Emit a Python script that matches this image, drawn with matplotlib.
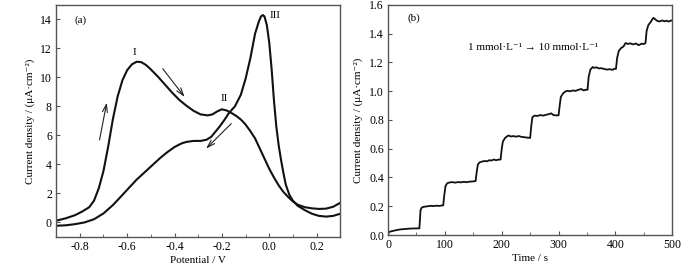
import matplotlib.pyplot as plt
from matplotlib.ticker import MultipleLocator

plt.rcParams['font.family'] = ['Liberation Serif', 'DejaVu Serif']
plt.rcParams['font.size'] = 8

# (a) cyclic voltammogram, forward scan
fwd_v = [-0.90, -0.86, -0.82, -0.79, -0.76, -0.74, -0.72, -0.70, -0.68, -0.66,
         -0.64, -0.62, -0.60, -0.58, -0.56, -0.54, -0.52, -0.50, -0.47, -0.44,
         -0.41, -0.38, -0.35, -0.32, -0.29, -0.26, -0.24, -0.22, -0.20, -0.18,
         -0.16, -0.14, -0.12, -0.10, -0.08, -0.06, -0.04, -0.02, 0.00, 0.02,
         0.04, 0.06, 0.08, 0.10, 0.12, 0.15, 0.18, 0.21, 0.24, 0.27, 0.30]
fwd_i = [0.12, 0.28, 0.50, 0.75, 1.05, 1.50, 2.35, 3.55, 5.25, 7.15,
         8.70, 9.80, 10.50, 10.90, 11.08, 11.05, 10.85, 10.55, 10.05, 9.50,
         8.95, 8.45, 8.05, 7.70, 7.45, 7.38, 7.45, 7.65, 7.80, 7.72,
         7.55, 7.35, 7.10, 6.75, 6.30, 5.80, 5.10, 4.40, 3.70, 3.10,
         2.55, 2.10, 1.75, 1.45, 1.22, 1.05, 0.97, 0.93, 0.95, 1.08, 1.35]

# (a) reverse scan
rev_v = [0.30, 0.27, 0.24, 0.21, 0.18, 0.15, 0.12, 0.10, 0.085, 0.07,
         0.06, 0.05, 0.04, 0.03, 0.02, 0.01, 0.00, -0.01, -0.02, -0.027,
         -0.035, -0.045, -0.06, -0.08, -0.10, -0.12, -0.145, -0.17, -0.19, -0.21,
         -0.23, -0.245, -0.265, -0.29, -0.32, -0.35, -0.37, -0.40, -0.43, -0.46,
         -0.49, -0.52, -0.56, -0.60, -0.63, -0.66, -0.70, -0.74, -0.78, -0.82,
         -0.86, -0.90]
rev_i = [0.60, 0.45, 0.40, 0.45, 0.60, 0.85, 1.15, 1.50, 1.90, 2.60,
         3.40, 4.30, 5.30, 6.60, 8.40, 10.60, 12.40, 13.60, 14.20, 14.30,
         14.20, 13.80, 13.00, 11.30, 9.90, 8.80, 8.00, 7.55, 7.05, 6.60,
         6.20, 5.90, 5.70, 5.62, 5.62, 5.55, 5.45, 5.20, 4.85, 4.45,
         4.00, 3.55, 2.95, 2.25, 1.72, 1.20, 0.62, 0.22, 0.00, -0.12,
         -0.20, -0.23]

# (b) chronoamperometry trace
t = [0, 1, 5, 10, 20, 30, 40, 50, 55,
     56, 57, 59, 62, 66, 70, 75, 80, 85, 90, 94, 97,
     99, 101, 104, 108, 113, 118, 123, 128, 133, 138, 143, 148, 154,
     156, 158, 161, 165, 170, 174, 178, 182, 186, 190, 194, 198,
     200, 202, 206, 209, 212, 216, 220, 225, 230, 235, 240, 245, 250,
     252, 254, 258, 263, 268, 273, 278, 283, 287, 291, 295, 300,
     302, 304, 308, 312, 316, 320, 325, 330, 335, 340, 344, 348, 351,
     353, 356, 360, 363, 367, 371, 375, 380, 385, 390, 395, 398, 401,
     403, 406, 410, 414, 418, 422, 426, 431, 436, 441, 446, 450, 453,
     455, 458, 462, 465, 467, 470, 474, 478, 482, 486, 490, 494, 498, 500]
j = [0.000, 0.020, 0.025, 0.030, 0.038, 0.042, 0.045, 0.046, 0.046,
     0.100, 0.170, 0.190, 0.195, 0.198, 0.200, 0.203, 0.201, 0.204, 0.202, 0.205, 0.206,
     0.280, 0.340, 0.360, 0.365, 0.368, 0.364, 0.368, 0.366, 0.370, 0.367, 0.371, 0.372, 0.375,
     0.440, 0.490, 0.505, 0.510, 0.515, 0.512, 0.520, 0.518, 0.525, 0.520, 0.524, 0.525,
     0.600, 0.650, 0.675, 0.685, 0.692, 0.685, 0.688, 0.684, 0.688, 0.682, 0.680, 0.677, 0.675,
     0.760, 0.820, 0.830, 0.828, 0.834, 0.830, 0.836, 0.840, 0.846, 0.834, 0.832, 0.832,
     0.900, 0.960, 0.985, 0.998, 1.003, 0.999, 1.005, 1.002, 1.010, 1.015, 1.005, 1.010, 1.010,
     1.100, 1.150, 1.168, 1.162, 1.166, 1.158, 1.160, 1.155, 1.150, 1.153, 1.148, 1.156, 1.155,
     1.230, 1.280, 1.300, 1.310, 1.335, 1.328, 1.333, 1.325, 1.332, 1.320, 1.330, 1.328, 1.335,
     1.420, 1.460, 1.480, 1.500, 1.510, 1.500, 1.488, 1.485, 1.492, 1.486, 1.490, 1.484, 1.492, 1.490]

fig = plt.figure(figsize=(6.93, 2.72), dpi=100)
ax1 = fig.add_axes([0.081, 0.129, 0.410, 0.853])
ax2 = fig.add_axes([0.560, 0.136, 0.410, 0.846])

for ax in (ax1, ax2):
    for s in ax.spines.values():
        s.set_color('#555555')
        s.set_linewidth(1.0)
    ax.tick_params(which='both', direction='in', color='#555555', pad=3, labelsize=8.5)
    ax.tick_params(which='major', length=3)
    ax.tick_params(which='minor', length=2)

# panel (a)
ax1.plot(fwd_v, fwd_i, color='#111111', lw=1.5)
ax1.plot(rev_v, rev_i, color='#111111', lw=1.5)
ax1.set_xlim(-0.9, 0.3)
ax1.set_ylim(-1, 15)
ax1.xaxis.set_minor_locator(MultipleLocator(0.1))
ax1.yaxis.set_major_locator(MultipleLocator(2))
ax1.set_xticks([-0.8, -0.6, -0.4, -0.2, 0.0, 0.2])
ax1.set_xticklabels(['-0.8', '-0.6', '-0.4', '-0.2', '0.0', '0.2'])
ax1.set_xlabel('Potential / V', labelpad=2)
ax1.set_ylabel('Current density / (μA·cm⁻²)', labelpad=4)
ax1.text(0.065, 0.935, '(a)', transform=ax1.transAxes, ha='left', va='center')
ax1.text(-0.57, 11.75, 'I', ha='center', va='center')
ax1.text(-0.19, 8.55, 'II', ha='center', va='center')
ax1.text(0.025, 14.3, 'III', ha='center', va='center')

arr = dict(arrowstyle='->,head_length=0.7,head_width=0.22', color='#222222', lw=0.8)
ax1.annotate('', xy=(-0.684, 8.45), xytext=(-0.719, 5.5), arrowprops=arr)
ax1.annotate('', xy=(-0.35, 8.5), xytext=(-0.457, 10.75), arrowprops=arr)
ax1.annotate('', xy=(-0.275, 4.95), xytext=(-0.152, 6.95), arrowprops=arr)

# panel (b)
ax2.plot(t, j, color='#111111', lw=1.3)
ax2.set_xlim(0, 500)
ax2.set_ylim(0, 1.6)
ax2.xaxis.set_major_locator(MultipleLocator(100))
ax2.xaxis.set_minor_locator(MultipleLocator(50))
ax2.yaxis.set_major_locator(MultipleLocator(0.2))
ax2.yaxis.set_major_formatter(plt.FormatStrFormatter('%.1f'))
ax2.set_xlabel('Time / s', labelpad=2)
ax2.set_ylabel('Current density / (μA·cm⁻²)', labelpad=4)
ax2.text(0.07, 0.943, '(b)', transform=ax2.transAxes, ha='left', va='center')
ax2.text(255, 1.305, '1 mmol·L⁻¹ → 10 mmol·L⁻¹', ha='center', va='center')

fig.savefig('out.png', dpi=100)
